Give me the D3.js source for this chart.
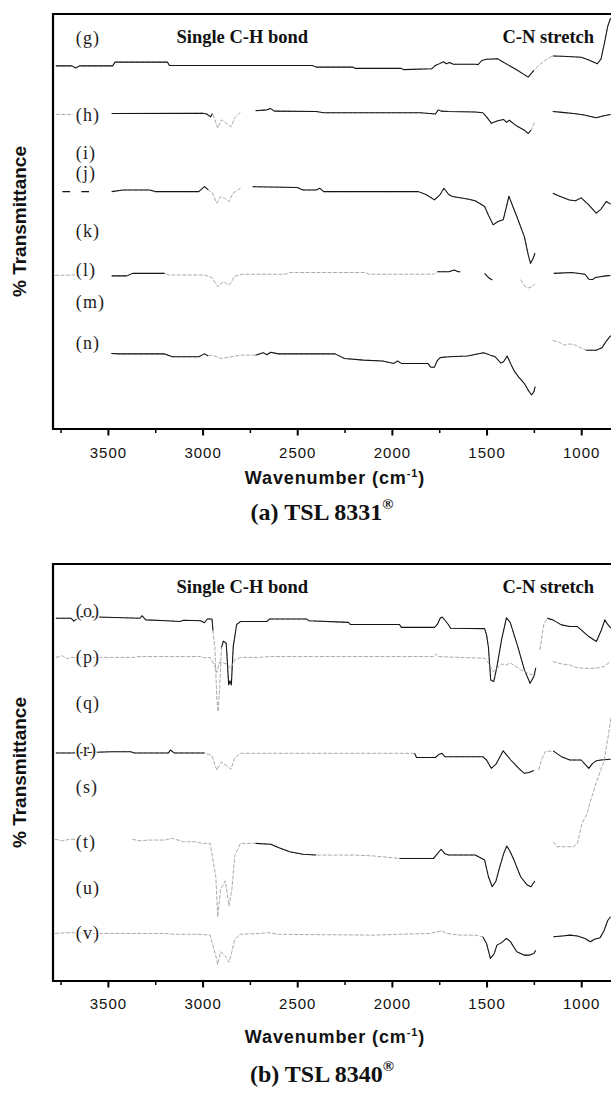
<!DOCTYPE html>
<html>
<head>
<meta charset="utf-8">
<script src="https://cdn.jsdelivr.net/npm/d3@7"></script>
<style>
  body { margin: 0; background: #fff; }
  svg { display: block; }
</style>
</head>
<body>
<div id="chart"></div>
<script>
// wavenumber ticks (cm-1)
const majorTicks = [3500, 3000, 2500, 2000, 1500, 1000];
const minorTicks = [3750, 3250, 2750, 2250, 1750, 1250, 750];

// (a) TSL 8331 - spectra as [wavenumber, %T with offset], null = break in trace
const specG = [[3775,87.5],[3690,87.5],[3670,87.0],[3650,87.5],[3475,87.5],[3462,88.4],[3185,88.4],[3175,87.6],[2420,87.6],[2400,87.2],[2205,87.2],[2195,86.9],[1950,86.9],[1938,86.6],[1790,86.8],[1770,87.6],[1745,88.1],[1728,88.5],[1712,88.0],[1695,88.3],[1675,87.9],[1560,87.9],[1545,87.8],[1525,88.8],[1500,89.1],[1440,89.2],[1420,88.6],[1350,86.8],[1280,84.8],[1250,86.4],[1230,87.4],[1185,89.0],[1150,89.9],[1100,89.8],[1000,89.6],[960,88.9],[915,88.0],[895,89.2],[875,93.5],[860,97.0],[845,99.0]];
const specH = [[3775,75.8],[3685,75.8],[3640,null],[3480,76.0],[3000,76.1],[2978,75.9],[2958,75.2],[2948,76.0],[2935,74.5],[2920,72.5],[2900,74.5],[2870,73.5],[2850,72.8],[2830,75.0],[2800,76.3],[2760,null],[2720,76.7],[2660,76.9],[2640,77.2],[2620,76.6],[2400,76.5],[2360,76.2],[1850,76.2],[1800,76.0],[1770,75.9],[1755,76.9],[1740,76.6],[1700,76.5],[1560,76.4],[1520,76.2],[1500,75.2],[1475,73.7],[1440,74.3],[1410,74.6],[1395,73.9],[1380,74.4],[1340,73.0],[1300,72.0],[1280,71.2],[1265,72.0],[1245,74.0],[1200,null],[1150,76.5],[1100,76.3],[1040,76.0],[990,75.7],[950,75.3],[920,75.0],[880,75.5],[845,75.8]];
const specJ = [[3740,57.2],[3700,57.2],[3680,null],[3640,57.2],[3600,57.2],[3560,null],[3480,57.2],[3420,57.6],[3280,57.6],[3250,57.2],[3020,57.2],[2990,58.4],[2970,57.6],[2950,57.0],[2925,54.4],[2905,56.0],[2880,55.5],[2860,54.8],[2840,56.8],[2800,58.0],[2770,null],[2735,58.4],[2500,58.2],[2470,57.6],[2400,57.6],[2380,58.0],[2360,57.2],[1860,57.2],[1820,56.5],[1775,55.2],[1745,56.5],[1725,58.0],[1700,56.5],[1680,56.0],[1600,55.4],[1560,55.0],[1510,53.6],[1490,51.5],[1465,49.2],[1440,50.0],[1412,50.4],[1395,53.5],[1382,56.1],[1360,53.5],[1340,51.2],[1300,46.3],[1280,42.0],[1268,39.9],[1255,41.0],[1244,42.4],[1200,null],[1150,56.8],[1120,56.2],[1063,55.2],[1030,55.0],[1000,55.7],[960,54.0],[921,52.0],[895,53.0],[868,54.8],[845,54.2]];
const specL = [[3780,37.0],[3700,37.1],[3600,37.2],[3560,null],[3480,36.9],[3400,36.9],[3370,37.5],[3200,37.5],[3180,37.1],[2990,37.1],[2950,36.5],[2920,34.3],[2890,35.5],[2860,34.6],[2830,36.8],[2790,37.3],[2560,37.3],[2540,37.7],[2140,37.7],[2120,37.3],[1780,37.3],[1760,37.9],[1700,37.9],[1670,38.3],[1650,37.9],[1639,37.9],[1580,null],[1510,37.5],[1490,36.5],[1470,35.9],[1400,null],[1320,36.0],[1300,34.5],[1280,34.0],[1260,34.2],[1245,35.0],[1200,null],[1145,37.5],[1050,37.7],[980,37.3],[960,36.1],[940,36.0],[925,36.5],[900,36.7],[870,36.9],[845,37.0]];
const specN = [[3482,18.2],[3440,18.1],[3200,18.1],[3160,17.4],[3020,17.4],[2990,18.1],[2970,17.6],[2950,17.8],[2900,17.0],[2850,17.4],[2800,17.8],[2720,17.8],[2680,18.4],[2660,17.9],[2640,18.5],[2600,18.1],[2300,18.1],[2250,17.0],[2150,16.6],[2050,16.4],[1990,15.8],[1970,16.4],[1950,15.8],[1810,15.8],[1795,14.9],[1775,14.9],[1760,16.5],[1745,17.2],[1700,17.4],[1600,17.6],[1516,18.4],[1480,17.8],[1454,17.4],[1425,15.9],[1410,16.2],[1391,17.6],[1370,15.5],[1354,14.0],[1330,12.5],[1301,11.0],[1275,9.0],[1262,8.2],[1250,9.0],[1243,10.2],[1200,null],[1150,21.3],[1120,21.0],[1090,20.2],[1060,20.5],[1030,20.2],[1000,19.5],[975,19.0],[940,19.0],[921,19.0],[890,19.6],[870,21.0],[850,22.2],[842,22.5]];

// (b) TSL 8340
const specO = [[3775,87.0],[3695,87.0],[3680,86.3],[3650,87.4],[3330,87.0],[3320,87.6],[3300,86.6],[3190,86.4],[3120,86.2],[3100,86.5],[3010,86.4],[2990,85.9],[2975,86.8],[2950,86.8],[2945,84.0],[2935,80.0],[2925,68.0],[2918,64.6],[2910,70.0],[2900,80.0],[2890,81.5],[2875,81.0],[2862,71.0],[2855,72.0],[2848,71.0],[2838,80.2],[2820,85.5],[2800,86.2],[2660,86.2],[2648,86.8],[2450,86.8],[2440,86.4],[2230,86.0],[2220,85.5],[1960,85.5],[1950,84.8],[1775,84.8],[1760,85.5],[1745,87.0],[1734,87.3],[1720,86.5],[1702,85.5],[1690,84.6],[1510,84.5],[1500,83.0],[1490,80.0],[1478,72.2],[1462,71.8],[1445,75.4],[1420,82.0],[1395,87.1],[1375,86.0],[1335,80.2],[1300,74.6],[1270,71.4],[1250,73.0],[1240,75.1],[1228,null],[1218,79.4],[1198,85.4],[1180,87.0],[1150,86.6],[1105,85.4],[1060,85.0],[1020,85.0],[960,82.6],[920,81.4],[895,84.0],[875,86.6],[860,85.5],[843,84.6]];
const specP = [[3775,77.6],[3740,78.0],[3720,77.3],[3690,77.6],[3600,77.6],[3480,77.6],[3360,77.6],[3340,77.8],[3010,77.8],[2990,77.5],[2960,77.6],[2940,76.0],[2925,74.0],[2910,76.5],[2870,76.0],[2852,75.0],[2830,77.0],[2800,77.6],[2700,77.6],[2650,77.8],[1780,77.8],[1770,78.4],[1755,77.8],[1640,77.6],[1510,77.4],[1490,76.3],[1465,74.2],[1450,74.8],[1420,76.0],[1395,75.8],[1375,76.3],[1350,75.6],[1320,74.6],[1290,74.0],[1260,73.4],[1240,73.6],[1200,null],[1150,76.6],[1100,76.0],[1060,75.8],[1030,75.2],[990,75.0],[920,75.0],[880,75.4],[845,76.6]];
const specR = [[3775,54.7],[3690,54.7],[3600,54.8],[3480,55.0],[3380,55.0],[3360,54.7],[3180,54.7],[3170,55.4],[3150,54.7],[2990,54.7],[2950,54.0],[2925,50.6],[2900,52.5],[2870,51.5],[2850,50.8],[2830,53.5],[2800,54.6],[1880,54.6],[1870,53.6],[1770,53.6],[1750,54.4],[1735,54.6],[1720,53.8],[1520,53.8],[1500,53.0],[1475,51.0],[1450,52.0],[1412,55.2],[1390,54.0],[1372,53.0],[1330,51.0],[1300,49.8],[1275,50.0],[1250,50.5],[1235,null],[1225,50.6],[1210,53.0],[1190,55.0],[1148,55.2],[1105,53.8],[1060,53.0],[1000,53.0],[960,51.0],[940,52.2],[920,52.8],[895,53.0],[845,53.2]];
const specT = [[3780,34.0],[3740,33.6],[3700,34.0],[3600,34.0],[3500,null],[3370,34.0],[3330,33.6],[3290,33.8],[3200,33.8],[3160,34.2],[3100,33.4],[3040,33.4],[3000,33.0],[2960,33.0],[2930,25.0],[2920,15.4],[2905,22.0],[2880,24.0],[2860,18.0],[2845,22.0],[2830,30.0],[2800,33.0],[2720,33.0],[2640,32.8],[2600,32.0],[2540,31.0],[2470,30.4],[2400,30.2],[2200,30.2],[2100,30.0],[1960,29.4],[1780,29.4],[1760,30.5],[1740,31.6],[1720,30.5],[1700,30.2],[1560,30.2],[1510,29.0],[1490,25.0],[1470,22.6],[1450,24.0],[1435,26.6],[1410,30.5],[1393,32.4],[1375,31.0],[1355,29.0],[1320,25.0],[1285,23.0],[1265,22.6],[1245,24.0],[1200,null],[1147,33.4],[1130,32.2],[1040,32.2],[1020,33.0],[995,37.9],[970,40.0],[952,43.0],[920,47.7],[880,52.6],[858,58.5],[842,63.5]];
const specV = [[3780,11.4],[3700,11.6],[3600,11.4],[3480,11.4],[3200,11.4],[3150,11.2],[3020,11.2],[2960,11.0],[2930,6.0],[2920,4.0],[2905,7.0],[2880,6.0],[2860,4.5],[2845,7.0],[2830,10.0],[2800,11.2],[2700,11.4],[2650,11.6],[2600,11.2],[2100,11.0],[1960,11.2],[1800,11.4],[1760,11.8],[1735,12.0],[1710,11.4],[1640,11.0],[1560,11.0],[1520,10.6],[1500,9.0],[1480,5.4],[1460,6.5],[1445,8.6],[1420,9.2],[1395,10.2],[1375,9.5],[1340,7.0],[1300,6.2],[1275,6.2],[1250,6.6],[1240,7.4],[1200,null],[1147,10.6],[1100,10.8],[1060,11.0],[1020,10.8],[980,10.2],[952,9.4],[930,10.0],[900,10.4],[880,12.0],[860,14.5],[845,15.4]];

// wavenumber ranges where the printed trace is faded
const faintG = [[1240, 1165]];
const faintH = [[3790, 3670], [2945, 2790], [1262, 1235]];
const faintJ = [[2955, 2790]];
const faintL = [[3790, 3500], [3180, 2560], [2140, 1770], [1330, 1240]];
const faintN = [[2955, 2800], [1160, 1000]];
const faintO = [[2940, 2905], [1232, 1185]];
const faintP = [[3800, 700]];
const faintR = [[3330, 3200], [2960, 2790], [1240, 1180]];
const faintT = [[3800, 3020], [2960, 2790], [2330, 2000], [1150, 700]];
const faintV = [[3800, 1530]];

const labelsA = ["(g)", "(h)", "(i)", "(j)", "(k)", "(l)", "(m)", "(n)"];
const labelLevelsA = [94.2, 75.7, 66.5, 61.7, 47.9, 38.3, 30.6, 20.7];
const labelsB = ["(o)", "(p)", "(q)", "(r)", "(s)", "(t)", "(u)", "(v)"];
const labelLevelsB = [88.7, 77.7, 66.7, 55.4, 46.5, 33.3, 22.3, 11.5];

const bandNames = ["Single C-H bond", "C-N stretch"];
const titles = ["(a) TSL 8331", "(b) TSL 8340"];

const W = 611, H = 1095;
const svg = d3.select("#chart").append("svg")
    .attr("width", W).attr("height", H)
    .style("background", "#fff");

const x = d3.scaleLinear().domain([3790, 700]).range([53, 638]);

const panels = [
    { top: 14, bottom: 429, tickPad: 12, xlabY: 484, titleY: 520, title: titles[0],
      series: [[specG, faintG], [specH, faintH], [specJ, faintJ], [specL, faintL], [specN, faintN]],
      labels: labelsA, levels: labelLevelsA },
    { top: 564, bottom: 981, tickPad: 10.5, xlabY: 1043, titleY: 1082, title: titles[1],
      series: [[specO, faintO], [specP, faintP], [specR, faintR], [specT, faintT], [specV, faintV]],
      labels: labelsB, levels: labelLevelsB }
];

function inRanges(w, ranges) {
    return ranges.some(r => w <= r[0] && w >= r[1]);
}

panels.forEach(function (p) {
    const y = d3.scaleLinear().domain([0, 100]).range([p.bottom, p.top]);
    const g = svg.append("g");

    // spectra: faded trace underneath, printed trace on top
    p.series.forEach(function (s) {
        const data = s[0], faint = s[1];
        const lineAll = d3.line()
            .defined(d => d[1] != null)
            .x(d => x(d[0])).y(d => y(d[1]));
        const lineDark = d3.line()
            .defined(d => d[1] != null && !inRanges(d[0], faint))
            .x(d => x(d[0])).y(d => y(d[1]));
        g.append("path").attr("d", lineAll(data))
            .attr("fill", "none").attr("stroke", "#a0a0a0")
            .attr("stroke-width", 0.9).attr("stroke-dasharray", "4,1.5");
        g.append("path").attr("d", lineDark(data))
            .attr("fill", "none").attr("stroke", "#151515")
            .attr("stroke-width", 1.05).attr("stroke-linejoin", "round");
    });

    // frame (right side runs off the picture)
    g.append("path")
        .attr("d", `M${W + 10},${p.top}H${x(3790)}V${p.bottom}H${W + 10}`)
        .attr("fill", "none").attr("stroke", "#000").attr("stroke-width", 2.2);

    // x axis
    const ax = g.append("g").attr("transform", `translate(0,${p.bottom})`)
        .call(d3.axisBottom(x).tickValues(majorTicks).tickSize(6.5)
            .tickPadding(p.tickPad).tickSizeOuter(0).tickFormat(d3.format("d")));
    ax.select(".domain").remove();
    ax.selectAll(".tick line").attr("stroke", "#000").attr("stroke-width", 2);
    ax.selectAll(".tick text")
        .attr("font-family", "Arial, 'Liberation Sans', sans-serif")
        .attr("font-size", 15).attr("letter-spacing", 1).attr("fill", "#111");
    const axm = g.append("g").attr("transform", `translate(0,${p.bottom})`)
        .call(d3.axisBottom(x).tickValues(minorTicks).tickSize(4).tickFormat(""));
    axm.select(".domain").remove();
    axm.selectAll(".tick line").attr("stroke", "#000").attr("stroke-width", 1.5);

    // x label
    const xl = g.append("text").attr("x", 335).attr("y", p.xlabY)
        .attr("text-anchor", "middle")
        .attr("font-family", "Arial, 'Liberation Sans', sans-serif")
        .attr("font-weight", "bold").attr("font-size", 18)
        .attr("letter-spacing", 0.9).attr("fill", "#111");
    xl.append("tspan").text("Wavenumber (cm");
    xl.append("tspan").attr("dy", -7).attr("font-size", 11).text("-1");
    xl.append("tspan").attr("dy", 7).text(")");

    // y label
    g.append("text")
        .attr("transform", `translate(26,${(p.top + p.bottom) / 2}) rotate(-90)`)
        .attr("text-anchor", "middle")
        .attr("font-family", "Arial, 'Liberation Sans', sans-serif")
        .attr("font-weight", "bold").attr("font-size", 19).attr("fill", "#111")
        .text("% Transmittance");

    // panel title
    const t = g.append("text").attr("x", 322).attr("y", p.titleY)
        .attr("text-anchor", "middle")
        .attr("font-family", "'Times New Roman', 'Liberation Serif', serif")
        .attr("font-weight", "bold").attr("font-size", 24).attr("fill", "#111");
    t.append("tspan").text(p.title);
    t.append("tspan").attr("dy", -11).attr("font-size", 15).text("\u00AE");

    // band annotations
    g.append("text").attr("x", x(2790)).attr("y", y(94.6)).attr("dy", "0.35em")
        .attr("text-anchor", "middle")
        .attr("font-family", "'Times New Roman', 'Liberation Serif', serif")
        .attr("font-weight", "bold").attr("font-size", 18.5).attr("fill", "#111")
        .text(bandNames[0]);
    g.append("text").attr("x", x(932)).attr("y", y(94.6)).attr("dy", "0.35em")
        .attr("text-anchor", "end")
        .attr("font-family", "'Times New Roman', 'Liberation Serif', serif")
        .attr("font-weight", "bold").attr("font-size", 18.5).attr("fill", "#111")
        .text(bandNames[1]);

    // curve labels
    g.selectAll(".lab").data(p.labels).enter().append("text")
        .attr("x", x(3670)).attr("y", (d, i) => y(p.levels[i])).attr("dy", "0.35em")
        .attr("font-family", "'Times New Roman', 'Liberation Serif', serif")
        .attr("font-size", 18).attr("letter-spacing", 1.2).attr("fill", "#222")
        .attr("paint-order", "stroke").attr("stroke", "#fff").attr("stroke-width", 3)
        .text(d => d);
});
</script>
</body>
</html>
